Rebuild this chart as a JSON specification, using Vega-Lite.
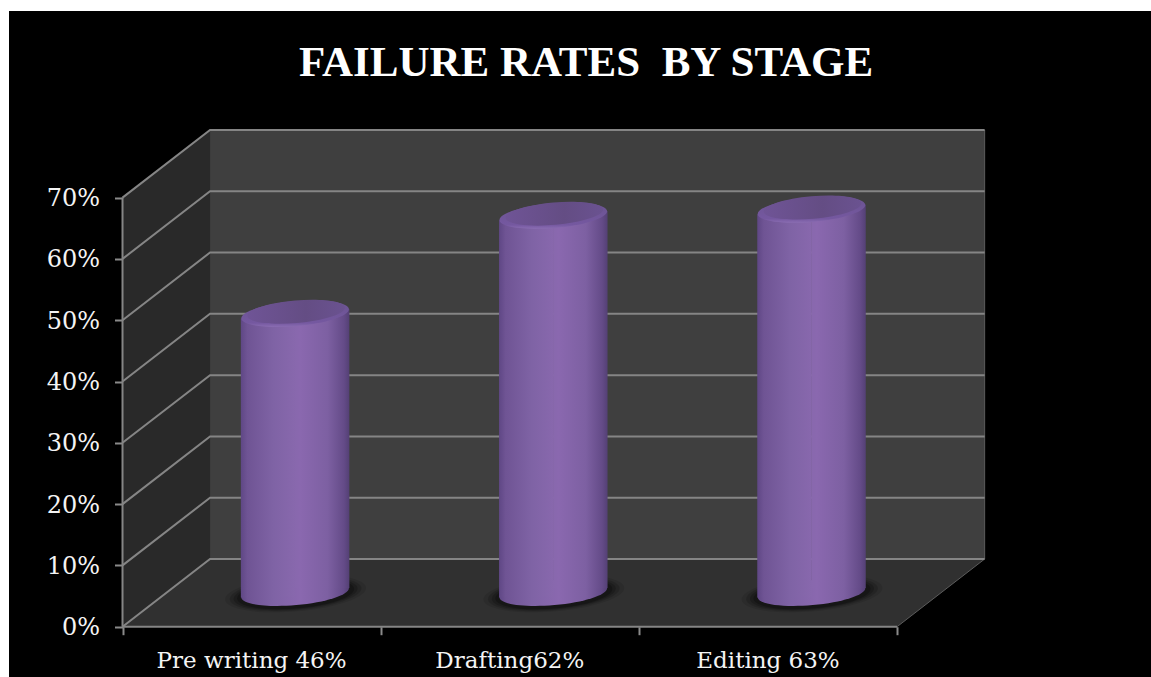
{
  "$schema": "https://vega.github.io/schema/vega-lite/v6.json",
  "autosize": {"type": "none"},
  "width": 1142,
  "height": 666,
  "padding": {"left": 9, "top": 11, "right": 0, "bottom": 0},
  "background": "#ffffff",
  "config": {"view": {"fill": "#000000", "stroke": null}},
  "title": {
    "text": "FAILURE RATES \u00a0BY STAGE",
    "anchor": "middle",
    "dx": 6,
    "offset": -74,
    "font": "Liberation Serif",
    "fontWeight": "bold",
    "fontSize": 43,
    "color": "#ffffff"
  },
  "datasets": {
    "stages": [
      {"stage": "Pre writing 46%", "across": 0.5, "height": 46},
      {"stage": "Drafting62%", "across": 1.5, "height": 62},
      {"stage": "Editing 63%", "across": 2.5, "height": 63}
    ],
    "walls": [
      {"wall": "side", "across": 0, "height": 70, "base": 0},
      {"wall": "side", "across": 0.339, "height": 81.04, "base": 11.04},
      {"wall": "back", "across": 0.339, "height": 81.04, "base": 11.04},
      {"wall": "back", "across": 3.339, "height": 81.04, "base": 11.04},
      {"wall": "floor", "across": 0, "height": 0, "base": 0},
      {"wall": "floor", "across": 0.339, "height": 11.04, "base": 0},
      {"wall": "floor", "across": 3, "height": 11.04, "base": 0},
      {"wall": "floor", "across": 3.339, "height": 11.04, "base": 11.04}
    ],
    "gridlines": [
      {"line": "g0", "across": 0, "height": 0}, {"line": "g0", "across": 0.339, "height": 11.04}, {"line": "g0", "across": 3.339, "height": 11.04},
      {"line": "g10", "across": 0, "height": 10}, {"line": "g10", "across": 0.339, "height": 21.04}, {"line": "g10", "across": 3.339, "height": 21.04},
      {"line": "g20", "across": 0, "height": 20}, {"line": "g20", "across": 0.339, "height": 31.04}, {"line": "g20", "across": 3.339, "height": 31.04},
      {"line": "g30", "across": 0, "height": 30}, {"line": "g30", "across": 0.339, "height": 41.04}, {"line": "g30", "across": 3.339, "height": 41.04},
      {"line": "g40", "across": 0, "height": 40}, {"line": "g40", "across": 0.339, "height": 51.04}, {"line": "g40", "across": 3.339, "height": 51.04},
      {"line": "g50", "across": 0, "height": 50}, {"line": "g50", "across": 0.339, "height": 61.04}, {"line": "g50", "across": 3.339, "height": 61.04},
      {"line": "g60", "across": 0, "height": 60}, {"line": "g60", "across": 0.339, "height": 71.04}, {"line": "g60", "across": 3.339, "height": 71.04},
      {"line": "g70", "across": 0, "height": 70}, {"line": "g70", "across": 0.339, "height": 81.04}, {"line": "g70", "across": 3.339, "height": 81.04},
      {"line": "front", "across": 0, "height": 0}, {"line": "front", "across": 3, "height": 0},
      {"line": "left", "across": 0, "height": 0}, {"line": "left", "across": 0, "height": 70}
    ],
    "edges": [
      {"line": "right", "across": 3.339, "height": 11.04}, {"line": "right", "across": 3.339, "height": 81.04},
      {"line": "lip", "across": 3, "height": 0}, {"line": "lip", "across": 3.339, "height": 11.04}
    ]
  },
  "encoding": {
    "x": {
      "field": "across",
      "type": "quantitative",
      "title": null,
      "scale": {"domain": [-0.4396, 3.9833], "nice": false, "zero": false, "padding": 0},
      "axis": {
        "values": [0, 1, 2, 3],
        "labels": false,
        "domain": false,
        "grid": false,
        "offset": -50.3,
        "tickSize": 8,
        "tickWidth": 2,
        "tickColor": "#8a8a8a"
      }
    },
    "y": {
      "field": "height",
      "type": "quantitative",
      "title": null,
      "scale": {"domain": [-8.205, 100.44], "nice": false, "zero": false, "padding": 0},
      "axis": {
        "values": [0, 10, 20, 30, 40, 50, 60, 70],
        "labelExpr": "datum.value + '%'",
        "domain": false,
        "grid": false,
        "offset": -113.5,
        "tickSize": 8,
        "tickWidth": 2,
        "tickColor": "#8a8a8a",
        "labelColor": "#f4f4f4",
        "labelFont": "DejaVu Serif",
        "labelFontSize": 24,
        "labelPadding": 15,
        "labelOffset": 1
      }
    }
  },
  "layer": [
    {
      "description": "Side wall, back wall and floor of the box",
      "data": {"name": "walls"},
      "mark": {"type": "area", "orient": "vertical"},
      "encoding": {
        "y2": {"field": "base"},
        "color": {
          "field": "wall",
          "type": "nominal",
          "legend": null,
          "scale": {"domain": ["side", "back", "floor"], "range": ["#292929", "#3f3f3f", "#303030"]}
        }
      }
    },
    {
      "description": "Thin edges of the wall and floor",
      "data": {"name": "edges"},
      "mark": {"type": "line", "stroke": "#5c5c5c", "strokeWidth": 1},
      "encoding": {"detail": {"field": "line"}}
    },
    {
      "description": "Gridlines folded from side wall onto back wall, plus front baseline",
      "data": {"name": "gridlines"},
      "mark": {"type": "line", "stroke": "#858585", "strokeWidth": 2},
      "encoding": {"detail": {"field": "line"}}
    },
    {
      "description": "Soft floor shadow, outermost ellipse",
      "data": {"name": "stages"},
      "mark": {"type": "point", "filled": true, "color": "#000000", "opacity": 0.1, "size": 20000, "xOffset": 44, "yOffset": -33,
        "shape": "M-0.9962,0.0872A1,0.25,-5,1,1,0.9962,-0.0872A1,0.25,-5,1,1,-0.9962,0.0872Z"},
      "encoding": {"y": {"datum": 0}}
    },
    {
      "description": "Soft floor shadow",
      "data": {"name": "stages"},
      "mark": {"type": "point", "filled": true, "color": "#000000", "opacity": 0.14, "size": 17500, "xOffset": 44, "yOffset": -33,
        "shape": "M-0.9962,0.0872A1,0.25,-5,1,1,0.9962,-0.0872A1,0.25,-5,1,1,-0.9962,0.0872Z"},
      "encoding": {"y": {"datum": 0}}
    },
    {
      "description": "Soft floor shadow",
      "data": {"name": "stages"},
      "mark": {"type": "point", "filled": true, "color": "#000000", "opacity": 0.18, "size": 15500, "xOffset": 44, "yOffset": -33,
        "shape": "M-0.9962,0.0872A1,0.25,-5,1,1,0.9962,-0.0872A1,0.25,-5,1,1,-0.9962,0.0872Z"},
      "encoding": {"y": {"datum": 0}}
    },
    {
      "description": "Soft floor shadow, innermost ellipse",
      "data": {"name": "stages"},
      "mark": {"type": "point", "filled": true, "color": "#000000", "opacity": 0.24, "size": 13800, "xOffset": 44, "yOffset": -33,
        "shape": "M-0.9962,0.0872A1,0.25,-5,1,1,0.9962,-0.0872A1,0.25,-5,1,1,-0.9962,0.0872Z"},
      "encoding": {"y": {"datum": 0}}
    },
    {
      "description": "Rounded foot of each cylinder",
      "data": {"name": "stages"},
      "mark": {
        "type": "point",
        "filled": true,
        "opacity": 1,
        "size": 11664,
        "xOffset": 43.5,
        "yOffset": -34,
        "shape": "M-0.9962,0.0872A1,0.23,-5,1,1,0.9962,-0.0872A1,0.23,-5,1,1,-0.9962,0.0872Z",
        "color": {
          "gradient": "linear", "x1": 0, "y1": 0, "x2": 1, "y2": 0,
          "stops": [
            {"offset": 0, "color": "#5f4785"},
            {"offset": 0.06, "color": "#6f5494"},
            {"offset": 0.3, "color": "#7f63a5"},
            {"offset": 0.55, "color": "#8a68af"},
            {"offset": 0.8, "color": "#7d60a2"},
            {"offset": 0.95, "color": "#644b88"},
            {"offset": 1, "color": "#544075"}
          ]
        }
      },
      "encoding": {"y": {"datum": 0}}
    },
    {
      "description": "Left half of the cylinder body, stepped to meet the tilted ends",
      "data": {"name": "stages"},
      "mark": {
        "type": "bar",
        "width": 54.5,
        "xOffset": 16.5,
        "yOffset": -26.3,
        "y2Offset": -29.3,
        "color": {
          "gradient": "linear", "x1": 0, "y1": 0, "x2": 1, "y2": 0,
          "stops": [
            {"offset": 0, "color": "#5f4785"},
            {"offset": 0.12, "color": "#6f5494"},
            {"offset": 0.6, "color": "#7f63a5"},
            {"offset": 1, "color": "#8868ad"}
          ]
        }
      },
      "encoding": {"y2": {"datum": 0}}
    },
    {
      "description": "Right half of the cylinder body, stepped to meet the tilted ends",
      "data": {"name": "stages"},
      "mark": {
        "type": "bar",
        "width": 54.5,
        "xOffset": 70.5,
        "yOffset": -35.7,
        "y2Offset": -38.7,
        "color": {
          "gradient": "linear", "x1": 0, "y1": 0, "x2": 1, "y2": 0,
          "stops": [
            {"offset": 0, "color": "#8868ad"},
            {"offset": 0.1, "color": "#8a68af"},
            {"offset": 0.6, "color": "#7d60a2"},
            {"offset": 0.9, "color": "#644b88"},
            {"offset": 1, "color": "#544075"}
          ]
        }
      },
      "encoding": {"y2": {"datum": 0}}
    },
    {
      "description": "Rim of each cylinder's top",
      "data": {"name": "stages"},
      "mark": {
        "type": "point",
        "filled": true,
        "opacity": 1,
        "size": 11664,
        "xOffset": 43.5,
        "yOffset": -31,
        "shape": "M-0.9962,0.0872A1,0.23,-5,1,1,0.9962,-0.0872A1,0.23,-5,1,1,-0.9962,0.0872Z",
        "color": {
          "gradient": "linear", "x1": 0, "y1": 0, "x2": 0, "y2": 1,
          "stops": [
            {"offset": 0, "color": "#6a5390"},
            {"offset": 0.85, "color": "#7558a0"},
            {"offset": 1, "color": "#8a6db2"}
          ]
        }
      },
      "encoding": {"y": {"field": "height"}}
    },
    {
      "description": "Darker inner face of each cylinder's top",
      "data": {"name": "stages"},
      "mark": {
        "type": "point",
        "filled": true,
        "opacity": 1,
        "size": 9600,
        "xOffset": 44.5,
        "yOffset": -33,
        "shape": "M-0.9962,0.0872A1,0.23,-5,1,1,0.9962,-0.0872A1,0.23,-5,1,1,-0.9962,0.0872Z",
        "color": {
          "gradient": "linear", "x1": 0, "y1": 0, "x2": 1, "y2": 0,
          "stops": [
            {"offset": 0, "color": "#6f5496"},
            {"offset": 0.6, "color": "#644d84"},
            {"offset": 1, "color": "#6a5290"}
          ]
        }
      },
      "encoding": {"y": {"field": "height"}}
    },
    {
      "description": "Category labels under the front edge",
      "data": {"name": "stages"},
      "mark": {
        "type": "text",
        "font": "DejaVu Serif",
        "fontSize": 23,
        "color": "#f4f4f4",
        "baseline": "middle",
        "align": "center",
        "dy": 34
      },
      "encoding": {
        "y": {"datum": 0},
        "text": {"field": "stage"}
      }
    }
  ]
}
